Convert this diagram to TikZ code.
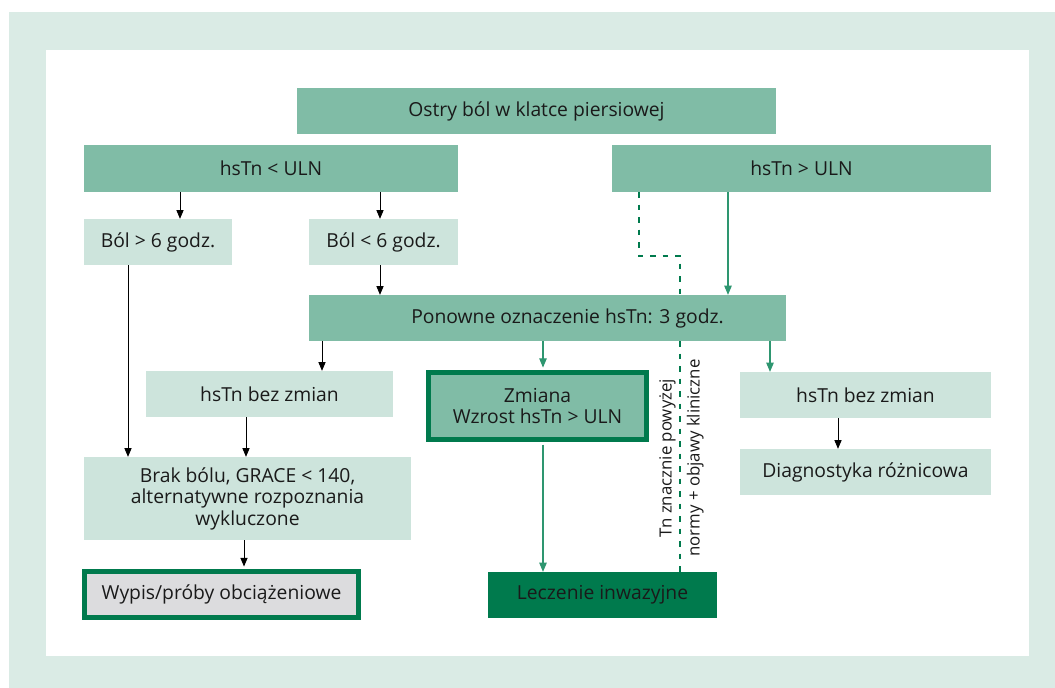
\documentclass[tikz,border=0pt]{standalone}
\usepackage{fontspec}
\setmainfont{Open Sans}
\usetikzlibrary{arrows}
\definecolor{band}{HTML}{DAEBE5}
\definecolor{light}{HTML}{CDE4DC}
\definecolor{mid}{HTML}{80BCA6}
\definecolor{dark}{HTML}{007A4D}
\definecolor{greyfill}{HTML}{DCDCDE}
\definecolor{arrowgreen}{HTML}{2E9670}
\definecolor{txt}{HTML}{1A1A1A}

\begin{document}
\begin{tikzpicture}[line join=miter,>=triangle 45,x=1pt,y=-1pt,
  every node/.style={font=\fontsize{19.3}{21.5}\selectfont,text=txt,inner sep=0pt,align=center},
  midbox/.style={fill=mid,minimum height=46},
  lightbox/.style={fill=light,minimum height=46},
  blackarrow/.style={->,line width=1pt,black},
  greenarrow/.style={->,line width=1.1pt,arrowgreen},
  dashline/.style={line width=2.5pt,dark,dash pattern=on 5.5pt off 7pt}]
\useasboundingbox (0,0) rectangle (1055,688);
\fill[band] (9,12) rectangle (1055,688);
\fill[white] (46,50) rectangle (1029,656);

% boxes
\node[midbox,minimum width=479] (pain) at (536.5,111) {Ostry ból w klatce piersiowej};
\node[midbox,minimum width=374,minimum height=47] (low) at (271,168.5) {hsTn < ULN};
\node[midbox,minimum width=379,minimum height=47] (high) at (801.5,168.5) {hsTn > ULN};
\node[lightbox,minimum width=148] (over6) at (158,242) {Ból > 6 godz.};
\node[lightbox,minimum width=149] (under6) at (383.5,242) {Ból < 6 godz.};
\node[midbox,minimum width=477] (retest) at (547.5,318) {\hspace*{40pt}Ponowne oznaczenie hsTn: 3 godz.};
\node[lightbox,minimum width=247] (sameL) at (269.5,394) {hsTn bez zmian};
\node[midbox,draw=dark,line width=5pt,minimum width=218,minimum height=67] (change) at (537.5,406) {Zmiana\\Wzrost hsTn > ULN};
\node[lightbox,minimum width=327,minimum height=83] (grace) at (247.5,498.5) {Brak bólu, GRACE < 140,\\alternatywne rozpoznania\\wykluczone};
\node[fill=greyfill,draw=dark,line width=5pt,minimum width=274,minimum height=46] (discharge) at (221.5,594.5) {Wypis/próby obciążeniowe};
\node[fill=dark,minimum width=229,minimum height=46] (invasive) at (602.5,595) {Leczenie inwazyjne};
\node[lightbox,minimum width=251] (sameR) at (865.5,395) {hsTn bez zmian};
\node[lightbox,minimum width=251] (diff) at (865.5,472) {Diagnostyka różnicowa};
\node[rotate=90,font=\fontsize{16.8}{28}\selectfont] (note) at (681.5,458) {Tn znacznie powyżej\\normy + objawy kliniczne};

% connectors
\draw[blackarrow] (low.south -| 180,0) -- (over6.north -| 180,0);
\draw[blackarrow] (low.south -| 380,0) -- (under6.north -| 380,0);
\draw[blackarrow] (under6.south -| 380,0) -- (retest.north -| 380,0);
\draw[blackarrow] (over6.south -| 128,0) -- (grace.north -| 128,0);
\draw[blackarrow] (retest.south -| 322,0) -- (sameL.north -| 322,0);
\draw[blackarrow] (sameL.south -| 246,0) -- (grace.north -| 246,0);
\draw[blackarrow,shorten >=2.5pt] (grace.south -| 244,0) -- (discharge.north -| 244,0);
\draw[blackarrow] (sameR.south -| 838,0) -- (diff.north -| 838,0);
\draw[greenarrow] (high.south -| 728,0) -- (retest.north -| 728,0);
\draw[greenarrow,shorten >=2.5pt] (retest.south -| 543,0) -- (change.north -| 543,0);
\draw[greenarrow,shorten <=2.5pt] (change.south -| 543,0) -- (invasive.north -| 543,0);
\draw[greenarrow] (retest.south -| 770,0) -- (sameR.north -| 770,0);
\coordinate (knee) at (660,256);
\draw[dashline] (high.south -| 639,0) |- (knee) -| (retest.north -| 680,0);
\draw[dashline] (retest.south -| 680,0) -- ([yshift=-7pt]invasive.north -| 680,0);
\draw[->,line width=1pt,dark] ([yshift=-8pt]invasive.north -| 680,0) -- (invasive.north -| 680,0);
\end{tikzpicture}
\end{document}
